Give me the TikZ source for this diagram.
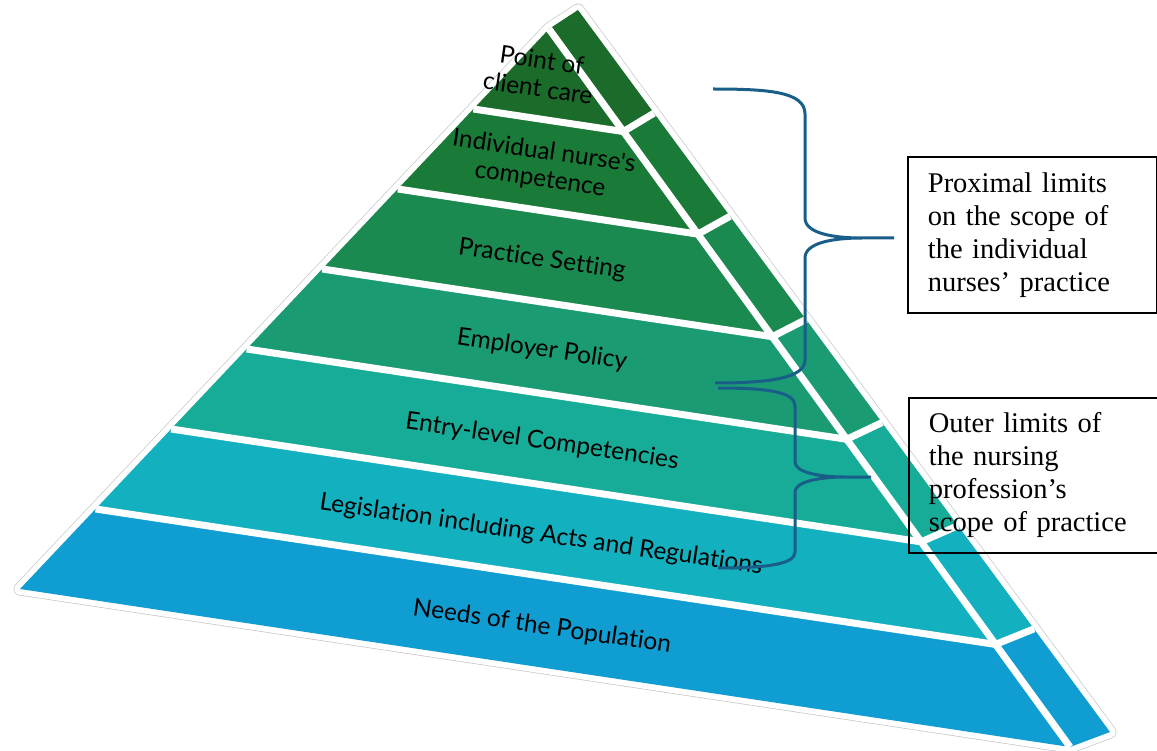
\documentclass[tikz,border=0pt]{standalone}
\usepackage{fontspec}
\setmainfont{Liberation Serif}
\newfontfamily\labelfont{Lato}[Ligatures=NoCommon]
\usetikzlibrary{calc}

\definecolor{bandA}{RGB}{27,107,42}
\definecolor{bandB}{RGB}{26,122,55}
\definecolor{bandC}{RGB}{27,138,80}
\definecolor{bandD}{RGB}{26,155,116}
\definecolor{bandE}{RGB}{23,172,151}
\definecolor{bandF}{RGB}{19,176,191}
\definecolor{bandG}{RGB}{15,157,210}
\definecolor{bracecol}{RGB}{24,94,136}

\tikzset{
  gapline/.style={white, line width=7pt},
  bandlabel/.style={font=\labelfont\fontsize{24.5}{28}\selectfont, rotate=-8.3, align=center, inner sep=0pt},
  bracepath/.style={draw=bracecol, line width=3pt, line join=round},
  limitbox/.style={draw=black, line width=1.8pt, font=\fontsize{28.5}{33}\selectfont,
    align=left, inner xsep=20pt, inner ysep=0pt, anchor=north west},
}

\begin{document}
\begin{tikzpicture}[x=1pt, y=-1pt]
\useasboundingbox (0,0) rectangle (1157,751);
\clip (0,0) rectangle (1157,751);

% corner points of the two visible faces
\coordinate (F) at (549,29);   % apex of the front face
\coordinate (L) at (20,589);   % front left base corner
\coordinate (R) at (1070,747); % ridge base corner
\coordinate (S) at (578,10);   % apex of the side face
\coordinate (B) at (1110,732); % side back base corner

% faint outline around the whole solid
\draw[gray!45, line width=13pt, line join=round] (F) -- (S) -- (B) -- (R) -- (L) -- cycle;
\draw[white, line width=11.6pt, line join=round] (F) -- (S) -- (B) -- (R) -- (L) -- cycle;

% division points on the edges
\foreach \k in {0,...,7} {
  \coordinate (P\k) at ($(F)!\k/7!(L)$);
  \coordinate (Q\k) at ($(F)!\k/7!(R)$);
  \coordinate (T\k) at ($(S)!\k/7!(B)$);
}

% layers, front and side
\foreach \k/\c [evaluate=\k as \n using int(\k+1)] in {0/bandA,1/bandB,2/bandC,3/bandD,4/bandE,5/bandF,6/bandG} {
  \fill[\c] (P\k) -- (Q\k) -- (Q\n) -- (P\n) -- cycle;
  \fill[\c] (Q\k) -- (T\k) -- (T\n) -- (Q\n) -- cycle;
}

% white gaps between layers and along the ridge
\draw[gapline] (F) -- (R);
\foreach \k in {1,...,6} {
  \draw[gapline, line join=miter] (P\k) -- (Q\k) -- (T\k);
}

% layer labels
\node[bandlabel] (care) at (540,74) {Point of\\client care};
\node[bandlabel] (comp) at (542,166) {Individual nurse's\\competence};
\node[bandlabel] (setting) at (542,260) {Practice Setting};
\node[bandlabel] (policy) at (542,350) {Employer Policy};
\node[bandlabel] (entry) at (542,442) {Entry-level Competencies};
\node[bandlabel] (legis) at (541,535) {Legislation including Acts and Regulations};
\node[bandlabel] (needs) at (542,627) {Needs of the Population};

% explanatory boxes
\node[limitbox, minimum width=249pt, minimum height=156pt, text width=209pt] (prox) at (907,156)
  {Proximal limits\\on the scope of\\the individual\\nurses’ practice};
\node[limitbox, minimum width=262pt, minimum height=155pt, text width=222pt] (outer) at (908,397)
  {Outer limits of\\the nursing\\profession’s\\scope of practice};

% upper brace
\coordinate (u1) at (713,89);
\coordinate (ut) at (894,238);
\coordinate (u2) at (715,383);
\draw[bracepath] (u1) .. controls (770,89) and (805,92) .. (805,114)
  -- (805,218) .. controls (805,233) and (832,238) .. (862,238) -- (ut)
  (862,238) .. controls (832,238) and (805,243) .. (805,258)
  -- (805,360) .. controls (805,378) and (770,383) .. (u2);

% lower brace
\coordinate (l1) at (718,388);
\coordinate (lt) at (871,477);
\coordinate (l2) at (718,568);
\draw[bracepath] (l1) .. controls (768,388) and (795,392) .. (795,406)
  -- (795,462) .. controls (795,472) and (818,477) .. (845,477) -- (lt)
  (845,477) .. controls (818,477) and (795,482) .. (795,492)
  -- (795,552) .. controls (795,564) and (768,568) .. (l2);
\end{tikzpicture}
\end{document}
